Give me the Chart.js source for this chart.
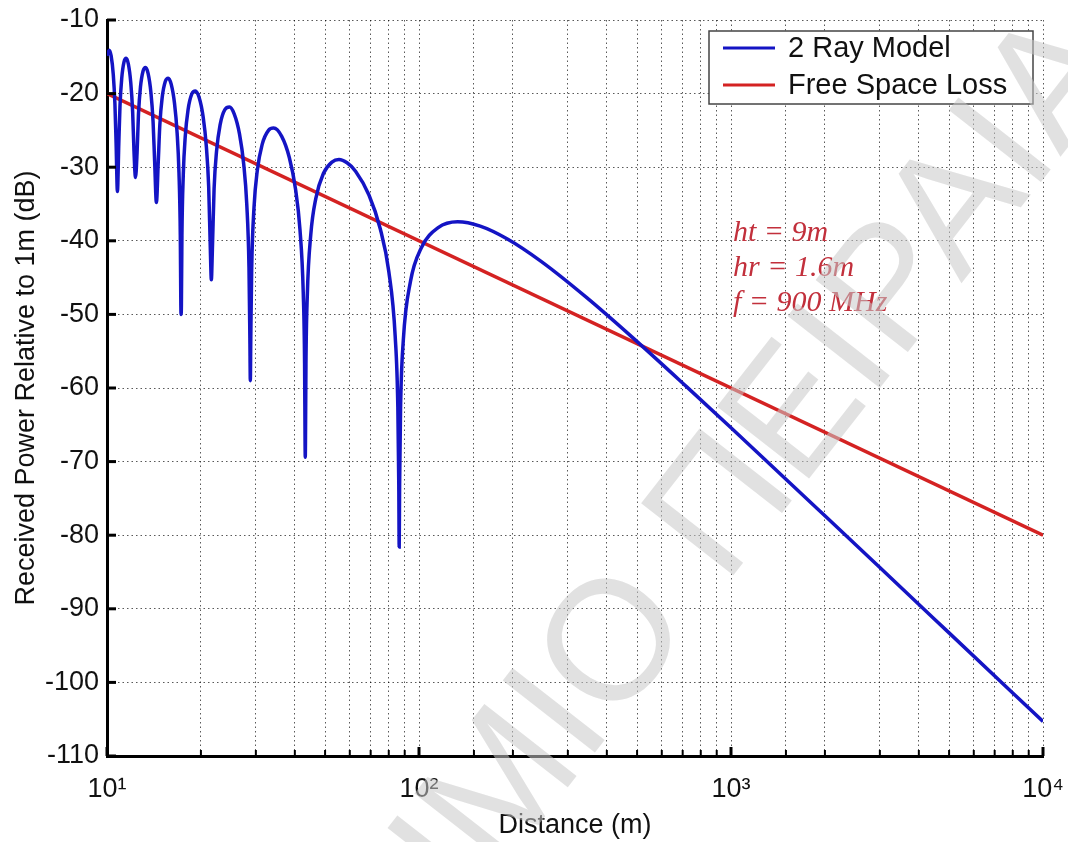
<!DOCTYPE html>
<html>
<head>
<meta charset="utf-8">
<script src="https://cdn.jsdelivr.net/npm/chart.js@4.4.0/dist/chart.umd.min.js"></script>
<style>
  html, body { margin: 0; padding: 0; background: #fff; }
  canvas { display: block; }
</style>
</head>
<body>
<canvas id="myChart" width="1068" height="842"></canvas>
<script>
// distances (m) and received power (dB)
const twoRayDistance = [
    10.0, 10.165, 10.31, 10.473, 10.601, 10.693, 10.8,
    10.909, 11.006, 11.148, 11.339, 11.52, 11.707, 11.917, 12.084, 12.203, 12.343,
    12.486, 12.613, 12.8, 13.051, 13.292, 13.542, 13.824, 14.049, 14.211, 14.4,
    14.595, 14.769, 15.026, 15.374, 15.709, 16.059, 16.457, 16.777, 17.008, 17.177, 17.246, 17.28,
    17.315, 17.384, 17.561, 17.814, 18.189, 18.701, 19.2, 19.726, 20.329, 20.819, 21.176, 21.439, 21.6,
    21.763, 22.041, 22.442, 23.04, 23.867, 24.686, 25.562, 26.585, 27.429, 28.052, 28.515, 28.704, 28.8,
    28.896, 29.091, 29.589, 30.316, 31.418, 32.977, 34.2, 36.303, 38.4, 40.186, 41.538, 42.562, 42.985, 43.135, 43.2,
    43.265, 43.417, 43.858, 45.0, 46.703, 49.371, 52.6, 55.4, 58.8, 62.609, 69.12, 75.13, 80.0, 83.883, 85.545, 86.142, 86.4,
    86.66, 87.27, 89.07, 93.91, 101.65, 115.2, 133.0, 157.09, 192.0, 246.86, 345.6, 480, 720,
    1000, 1500, 2000, 3000, 5000, 10000
];
const twoRayPower = [
    -14.85, -14.12, -14.88, -17.39, -21.35, -26.65, -33.3,
    -26.83, -21.67, -17.93, -15.70, -15.21, -15.98, -18.51, -22.48, -27.80, -31.4,
    -28.00, -22.86, -19.13, -16.92, -16.45, -17.24, -19.80, -23.79, -29.12, -34.8,
    -29.35, -24.23, -20.53, -18.35, -17.90, -18.72, -21.32, -25.33, -30.68, -39.21, -48.8, -50.0,
    -48.8, -39.31, -30.96, -25.86, -22.19, -20.05, -19.65, -20.51, -23.15, -27.21, -32.59, -41.13, -45.3,
    -41.26, -32.93, -27.86, -24.24, -22.17, -21.83, -22.76, -25.48, -29.60, -35.03, -43.61, -53.2, -59.0,
    -53.26, -43.79, -35.49, -30.47, -26.93, -24.97, -24.68, -25.81, -28.68, -32.92, -38.44, -47.09, -56.71, -67.2, -69.4,
    -67.2, -56.79, -47.35, -39.13, -34.23, -30.86, -29.3, -28.95, -29.4, -30.54, -33.78, -38.36, -44.13, -52.98, -62.68, -73.19, -81.6,
    -73.25, -62.86, -53.50, -45.52, -40.98, -38.22, -37.42, -38.01, -39.76, -42.83, -47.76, -53.02, -59.81,
    -65.41, -72.39, -77.37, -84.40, -93.27, -105.31
];
const freeSpaceDistance = [10, 10000];
const freeSpacePower = [-20, -80];

const seriesLabels = ['2 Ray Model', 'Free Space Loss'];
const xMajorTicks = [10, 100, 1000, 10000];
const xMajorLabels = ['10\u00B9', '10\u00B2', '10\u00B3', '10\u2074'];
const noteLines = ['ht = 9m', 'hr = 1.6m', 'f = 900 MHz'];
const watermarkText = 'ΠΑΝΕΠΙΣΤΗΜΙΟ ΠΕΙΡΑΙΑ';

const sansFont = '"Liberation Sans", Arial, sans-serif';

// short tick marks pointing into the plot
const inwardTicks = {
    id: 'inwardTicks',
    afterDatasetsDraw(chart) {
        const { ctx, chartArea, scales } = chart;
        ctx.save();
        ctx.strokeStyle = '#000';
        ctx.lineWidth = 3;
        scales.y.ticks.forEach(t => {
            const y = scales.y.getPixelForValue(t.value);
            ctx.beginPath();
            ctx.moveTo(chartArea.left, y);
            ctx.lineTo(chartArea.left + 9, y);
            ctx.stroke();
        });
        scales.x.ticks.forEach(t => {
            const x = scales.x.getPixelForValue(t.value);
            const major = xMajorTicks.includes(t.value);
            ctx.lineWidth = major ? 3 : 2;
            ctx.beginPath();
            ctx.moveTo(x, chartArea.bottom);
            ctx.lineTo(x, chartArea.bottom - (major ? 9 : 6));
            ctx.stroke();
        });
        ctx.restore();
    }
};

// legend box in the upper right corner + parameter notes
const boxLegend = {
    id: 'boxLegend',
    afterDraw(chart) {
        const { ctx, chartArea } = chart;
        const w = 324, h = 73;
        const left = chartArea.right - 10 - w;
        const top = chartArea.top + 11;
        ctx.save();
        ctx.fillStyle = '#fff';
        ctx.fillRect(left, top, w, h);
        ctx.strokeStyle = '#444';
        ctx.lineWidth = 1.5;
        ctx.strokeRect(left, top, w, h);
        ctx.font = '29px ' + sansFont;
        ctx.textBaseline = 'middle';
        chart.data.datasets.forEach((ds, i) => {
            const y = top + 17 + i * 37;
            ctx.strokeStyle = ds.borderColor;
            ctx.lineWidth = 3;
            ctx.beginPath();
            ctx.moveTo(left + 14, y);
            ctx.lineTo(left + 66, y);
            ctx.stroke();
            ctx.fillStyle = '#111';
            ctx.fillText(ds.label, left + 79, y + 1);
        });

        ctx.font = 'italic 30px "Liberation Serif", "Times New Roman", serif';
        ctx.fillStyle = '#c2303c';
        ctx.textBaseline = 'alphabetic';
        noteLines.forEach((txt, i) => {
            ctx.fillText(txt, 733, 241 + i * 35);
        });
        ctx.restore();
    }
};

// faint diagonal watermark over the picture
const watermark = {
    id: 'watermark',
    afterDraw(chart) {
        const { ctx } = chart;
        ctx.save();
        ctx.font = '170px ' + sansFont;
        const before = ctx.measureText('ΠΑΝΕΠΙΣΤΗΜΙ').width;
        const oWidth = ctx.measureText('Ο').width;
        ctx.translate(607, 638);
        ctx.rotate(-52 * Math.PI / 180);
        ctx.fillStyle = 'rgba(200, 200, 200, 0.55)';
        ctx.textBaseline = 'alphabetic';
        ctx.fillText(watermarkText, -(before + oWidth / 2), 61);
        ctx.restore();
    }
};

const gridStyle = {
    color: 'rgba(0,0,0,0.65)',
    lineWidth: 1,
    drawTicks: false
};
const axisBorder = { display: true, color: '#000', width: 3, dash: [1.5, 3] };

const ctx = document.getElementById('myChart').getContext('2d');
const myChart = new Chart(ctx, {
    type: 'line',
    data: {
        datasets: [{
            label: seriesLabels[0],
            data: twoRayDistance.map((d, i) => ({ x: d, y: twoRayPower[i] })),
            borderColor: '#1414c4',
            borderWidth: 3.5,
            pointRadius: 0,
            cubicInterpolationMode: 'monotone',
            fill: false
        }, {
            label: seriesLabels[1],
            data: freeSpaceDistance.map((d, i) => ({ x: d, y: freeSpacePower[i] })),
            borderColor: '#d42222',
            borderWidth: 3.5,
            pointRadius: 0,
            fill: false
        }]
    },
    options: {
        responsive: false,
        animation: false,
        layout: { padding: { top: 20, right: 25, left: 0, bottom: 0 } },
        plugins: {
            legend: { display: false },
            tooltip: { enabled: false }
        },
        scales: {
            x: {
                type: 'logarithmic',
                min: 10,
                max: 10000,
                afterFit(scale) {
                    scale.height = 86;
                    scale.paddingLeft = 0;
                    scale.paddingRight = 0;
                },
                grid: gridStyle,
                border: axisBorder,
                ticks: {
                    autoSkip: false,
                    maxRotation: 0,
                    padding: 17,
                    color: '#111',
                    font: { family: sansFont, size: 27 },
                    callback: (value) => {
                        const k = xMajorTicks.indexOf(value);
                        return k >= 0 ? xMajorLabels[k] : '';
                    }
                },
                title: {
                    display: true,
                    text: 'Distance (m)',
                    color: '#111',
                    font: { family: sansFont, size: 27 },
                    padding: { top: 0, bottom: 0 }
                }
            },
            y: {
                min: -110,
                max: -10,
                afterFit(scale) {
                    scale.width = 107;
                    scale.paddingTop = 0;
                    scale.paddingBottom = 0;
                },
                grid: gridStyle,
                border: axisBorder,
                ticks: {
                    stepSize: 10,
                    padding: 8,
                    color: '#111',
                    font: { family: sansFont, size: 27 }
                },
                title: {
                    display: true,
                    text: 'Received Power Relative to 1m (dB)',
                    color: '#111',
                    font: { family: sansFont, size: 27 },
                    padding: { top: 10, bottom: 0 }
                }
            }
        }
    },
    plugins: [inwardTicks, boxLegend, watermark]
});
</script>
</body>
</html>
